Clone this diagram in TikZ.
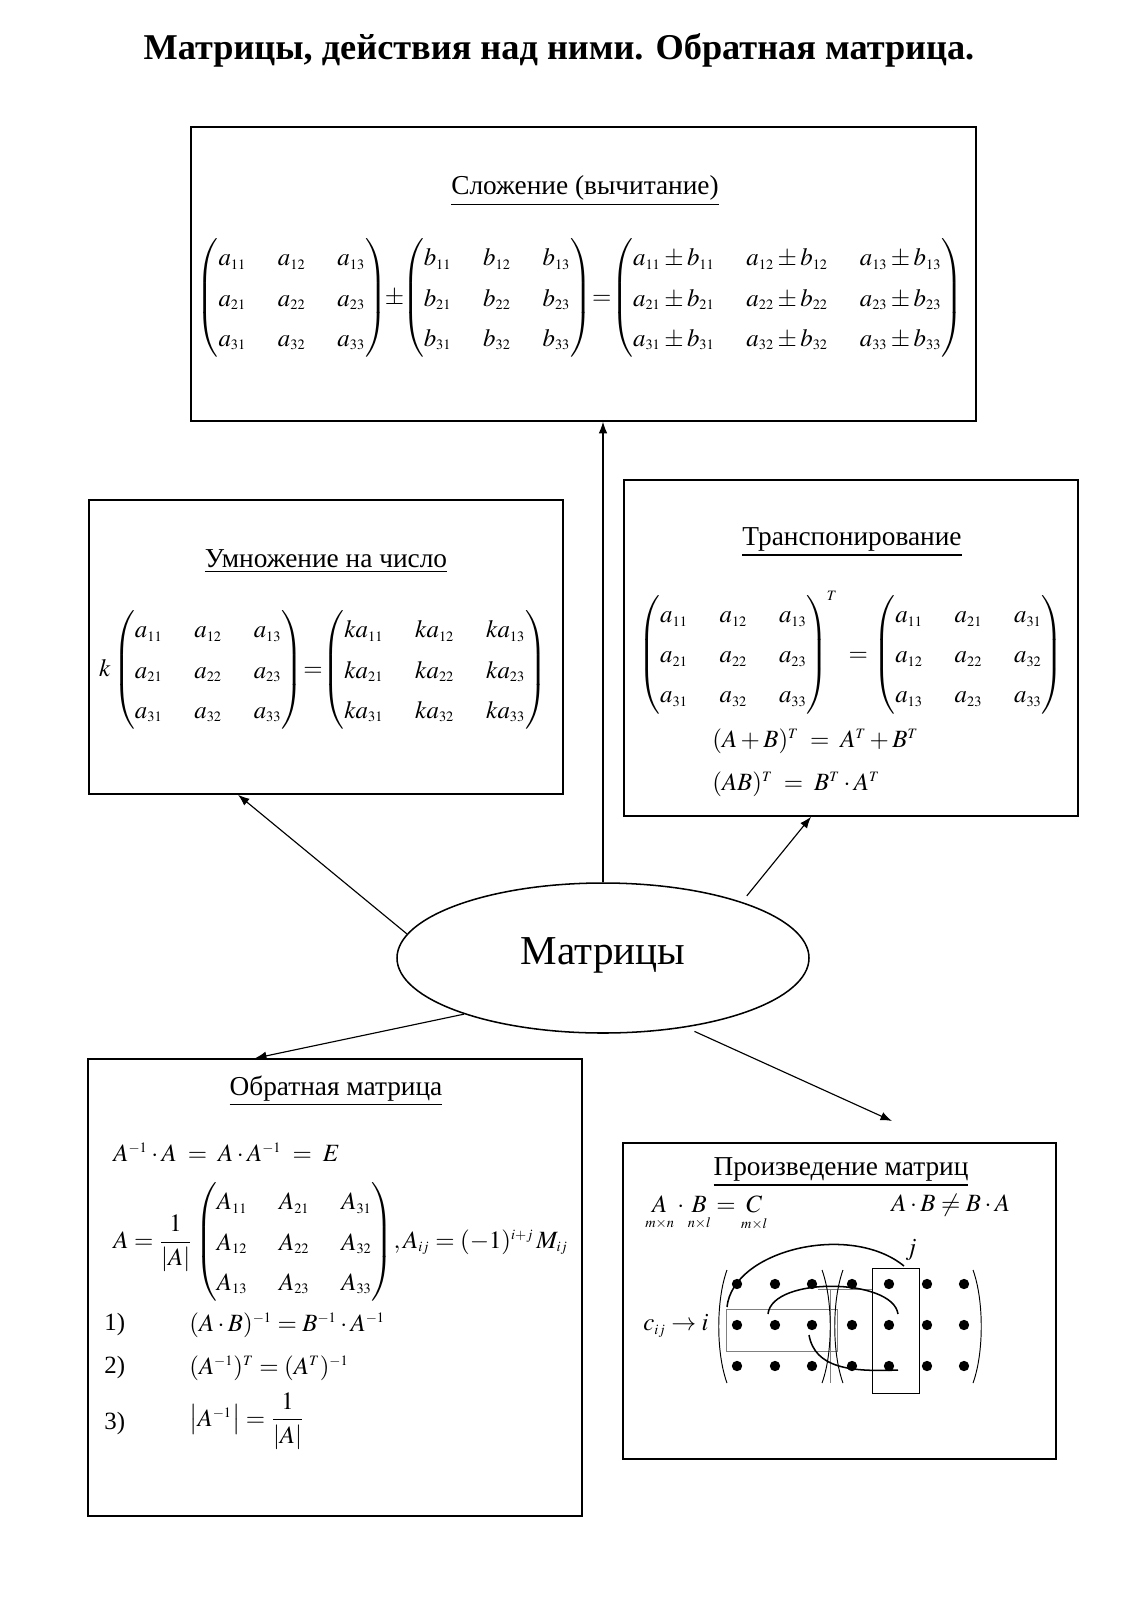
\documentclass[tikz,border=0pt]{standalone}
\usepackage{amsmath}
\usepackage{mathptmx}
\usepackage[no-math]{fontspec}
\setmainfont{Liberation Serif}
\usetikzlibrary{arrows.meta,positioning,shapes.geometric,calc}
\DeclareMathSizes{13}{13}{7.5}{6}
\newcommand{\pxu}{0.5213bp}
\newcommand{\tpm}{\mkern-4mu\pm\mkern-4mu}
\newcommand{\teq}{\mkern-4mu=\mkern-4mu}
\renewcommand{\arraystretch}{1.31}
\setlength{\arraycolsep}{8.3pt}
\tikzset{
  mbox/.style={rectangle, draw, line width=0.8pt, inner sep=0pt},
  mhead/.style={font=\fontsize{14.3}{17}\selectfont, inner sep=0pt},
  mform/.style={font=\fontsize{13}{16}\selectfont, inner sep=0pt},
  marr/.style={-{Latex[length=6bp,width=4.5bp]}, line width=0.6pt},
  thinl/.style={line width=0.5pt},
}

\begin{document}
\begin{tikzpicture}[x=\pxu, y=-\pxu]
\useasboundingbox (0,0) rectangle (1142,1621);
\node[font=\bfseries\fontsize{19}{23}\selectfont] (title) at (559,50) {Матрицы, действия над ними. Обратная матрица.};

% boxes and the centre
\node[mbox, minimum width=785*\pxu, minimum height=294*\pxu] (add) at (583.5,274) {};
\node[mbox, minimum width=474*\pxu, minimum height=294*\pxu] (mul) at (326,647) {};
\node[mbox, minimum width=454*\pxu, minimum height=336*\pxu] (tr) at (851,648) {};
\node[mbox, minimum width=494*\pxu, minimum height=457*\pxu] (inv) at (335,1287.5) {};
\node[mbox, minimum width=433*\pxu, minimum height=316*\pxu] (prod) at (839.5,1301) {};
\node[draw, ellipse, line width=0.8pt, minimum width=412*\pxu, minimum height=150*\pxu,
      font=\fontsize{21.5}{26}\selectfont] (mat) at (603,958) {\raisebox{7bp}{Матрицы}};
\coordinate (pend) at (892,1121);

\draw[marr] (mat.north) -- (mat.north |- add.south);
\draw[marr] (mat.173) -- ([xshift=-88*\pxu]mul.south);
\draw[marr, shorten <=4bp] (mat.22) -- ([xshift=-40*\pxu]tr.south);
\draw[marr] (mat.202) -- ([xshift=-80*\pxu]inv.north);
\draw[marr, shorten <=5bp] (mat.320) -- (pend);

% addition
\node[mhead] (addh) at (585,191) {\underline{Сложение (вычитание)}};
\node[mform] (adde) at (580,298) {$\begin{pmatrix} a_{11} & a_{12} & a_{13}\\ a_{21} & a_{22} & a_{23}\\ a_{31} & a_{32} & a_{33}\end{pmatrix}\tpm
  \begin{pmatrix} b_{11} & b_{12} & b_{13}\\ b_{21} & b_{22} & b_{23}\\ b_{31} & b_{32} & b_{33}\end{pmatrix}\teq
  \begin{pmatrix} a_{11}\pm b_{11} & a_{12}\pm b_{12} & a_{13}\pm b_{13}\\ a_{21}\pm b_{21} & a_{22}\pm b_{22} & a_{23}\pm b_{23}\\ a_{31}\pm b_{31} & a_{32}\pm b_{32} & a_{33}\pm b_{33}\end{pmatrix}$};

% multiplication by a number
\node[mhead] (mulh) at (326,561) {\underline{Умножение на число}};
\node[mform] (mule) at (323,670) {$k\begin{pmatrix} a_{11} & a_{12} & a_{13}\\ a_{21} & a_{22} & a_{23}\\ a_{31} & a_{32} & a_{33}\end{pmatrix}\teq
  \begin{pmatrix} ka_{11} & ka_{12} & ka_{13}\\ ka_{21} & ka_{22} & ka_{23}\\ ka_{31} & ka_{32} & ka_{33}\end{pmatrix}$};

% transposition
\node[mhead] (trh) at (852,542) {\underline{Транспонирование}};
\node[mform] (tre) at (851,653) {$\begin{pmatrix} a_{11} & a_{12} & a_{13}\\ a_{21} & a_{22} & a_{23}\\ a_{31} & a_{32} & a_{33}\end{pmatrix}^{\!T}\;=
  \begin{pmatrix} a_{11} & a_{21} & a_{31}\\ a_{12} & a_{22} & a_{32}\\ a_{13} & a_{23} & a_{33}\end{pmatrix}$};
\node[mform, anchor=west] (tr1) at (712,741) {$(A+B)^{T}\;=\;A^{T}+B^{T}$};
\node[mform, anchor=west] (tr2) at (712,784) {$(AB)^{T}\;=\;B^{T}\cdot A^{T}$};

% inverse
\node[mhead] (invh) at (336,1091) {\underline{Обратная матрица}};
\node[mform, anchor=west] (inv1) at (113,1152) {$A^{-1}\cdot A\;=\;A\cdot A^{-1}\;=\;E$};
\node[mform, anchor=west] (inv2) at (113,1242) {$A=\dfrac{1}{|A|}\begin{pmatrix} A_{11} & A_{21} & A_{31}\\ A_{12} & A_{22} & A_{32}\\ A_{13} & A_{23} & A_{33}\end{pmatrix}\!, A_{ij}=(-1)^{i+j}\,M_{ij}$};
\node[mform, anchor=west] (n1) at (104,1325) {1)};
\node[mform, anchor=west] (inv3) at (189,1325) {$(A\cdot B)^{-1}=B^{-1}\cdot A^{-1}$};
\node[mform, anchor=west] (n2) at (104,1368) {2)};
\node[mform, anchor=west] (inv4) at (189,1368) {$(A^{-1})^{T}=(A^{T})^{-1}$};
\node[mform, anchor=west] (n3) at (104,1424) {3)};
\node[mform, anchor=west] (inv5) at (189,1421) {$\bigl|A^{-1}\bigr|=\dfrac{1}{|A|}$};

% product
\node[mhead] (prodh) at (841,1172) {\underline{Произведение матриц}};
\node[mform, anchor=west] (prod1) at (645,1214) {$\underset{m\times n}{A}\cdot\underset{n\times l}{B}=\underset{m\times l}{C}$};
\node[mform, anchor=west] (prod2) at (891,1205) {$A\cdot B\neq B\cdot A$};
\node[mform, anchor=west] (cij) at (643,1326) {$c_{ij}\to i$};
\node[mform] (jl) at (911,1250) {$j$};
\draw[draw=gray, thinl] (726,1309) rectangle (837,1351);
\draw[draw=gray, thinl] (818,1289) -- (872,1289) (830,1289) -- (830,1383);
\draw[thinl] (872,1268) rectangle (919,1393);
\foreach \x in {737,775,812,852,889,927,964}
  \foreach \y in {1284,1325,1366}
    \fill (\x,\y) circle[radius=2.7bp];
\draw[thinl] (727,1270) .. controls (716,1300) and (716,1353) .. (727,1383);
\draw[thinl] (822,1270) .. controls (833,1300) and (833,1353) .. (822,1383);
\draw[thinl] (843,1270) .. controls (832,1300) and (832,1353) .. (843,1383);
\draw[thinl] (973,1270) .. controls (984,1300) and (984,1353) .. (973,1383);
\draw[line width=0.8pt] (727,1307) .. controls (733,1250) and (850,1222) .. (904,1266);
\draw[line width=0.8pt] (768,1314) .. controls (772,1276) and (893,1278) .. (898,1314);
\draw[line width=0.8pt] (809,1335) .. controls (815,1368) and (850,1372) .. (898,1370);
\end{tikzpicture}
\end{document}
